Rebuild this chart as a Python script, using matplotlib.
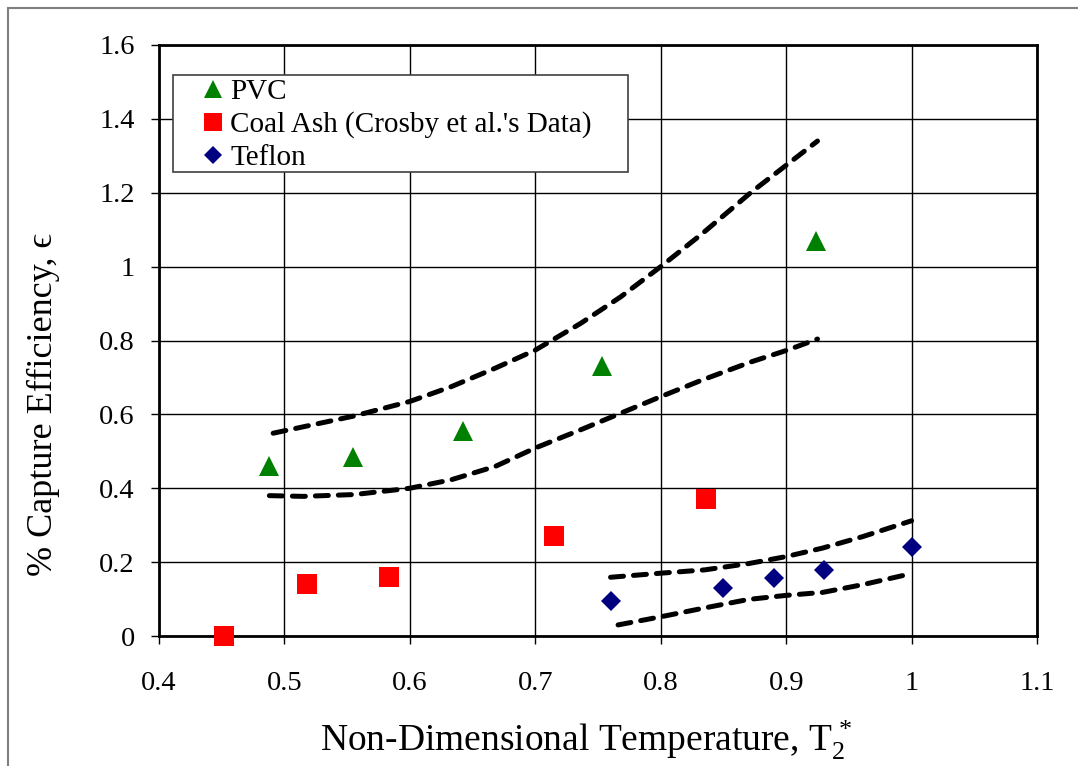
import matplotlib
matplotlib.use("Agg")
import matplotlib.pyplot as plt
from matplotlib.patches import Rectangle

# Measured capture efficiencies
pvc_x = [0.488, 0.555, 0.642, 0.753, 0.924]
pvc_y = [0.460, 0.485, 0.555, 0.732, 1.070]
ash_x = [0.452, 0.518, 0.583, 0.715, 0.836]
ash_y = [0.000, 0.140, 0.159, 0.270, 0.370]
teflon_x = [0.760, 0.850, 0.890, 0.930, 1.000]
teflon_y = [0.094, 0.130, 0.157, 0.179, 0.240]

# Model bounds (dashed curves)
pvc_upper_x = [0.491, 0.556, 0.600, 0.633, 0.668, 0.700, 0.736, 0.768, 0.800, 0.833, 0.872, 0.901, 0.925]
pvc_upper_y = [0.549, 0.596, 0.635, 0.675, 0.725, 0.774, 0.846, 0.918, 1.000, 1.089, 1.201, 1.277, 1.340]
pvc_lower_x = [0.488, 0.515, 0.556, 0.600, 0.633, 0.668, 0.700, 0.736, 0.763, 0.800, 0.833, 0.872, 0.901, 0.925]
pvc_lower_y = [0.380, 0.378, 0.383, 0.400, 0.423, 0.459, 0.509, 0.558, 0.596, 0.648, 0.693, 0.742, 0.774, 0.804]
teflon_upper_x = [0.760, 0.796, 0.835, 0.870, 0.900, 0.929, 0.961, 1.000]
teflon_upper_y = [0.159, 0.169, 0.179, 0.196, 0.215, 0.238, 0.269, 0.312]
teflon_lower_x = [0.766, 0.800, 0.835, 0.870, 0.900, 0.929, 0.961, 1.000]
teflon_lower_y = [0.030, 0.052, 0.076, 0.099, 0.110, 0.118, 0.139, 0.169]

x_ticks = [0.4, 0.5, 0.6, 0.7, 0.8, 0.9, 1.0, 1.1]
x_tick_labels = ["0.4", "0.5", "0.6", "0.7", "0.8", "0.9", "1", "1.1"]
y_ticks = [0.0, 0.2, 0.4, 0.6, 0.8, 1.0, 1.2, 1.4, 1.6]
y_tick_labels = ["0", "0.2", "0.4", "0.6", "0.8", "1", "1.2", "1.4", "1.6"]

series_labels = ["PVC", "Coal Ash (Crosby et al.'s Data)", "Teflon"]

plt.rcParams["font.family"] = ["Liberation Serif", "DejaVu Serif"]
plt.rcParams["mathtext.fontset"] = "custom"
plt.rcParams["mathtext.rm"] = "Liberation Serif"
plt.rcParams["mathtext.it"] = "Liberation Serif:italic"
plt.rcParams["mathtext.bf"] = "Liberation Serif:bold"

W, H = 1078, 766
fig = plt.figure(figsize=(W / 100, H / 100), dpi=100)

# outer chart frame (top and left edges visible)
fig.patches.append(Rectangle((8 / W, -0.05), 1.2, (H - 8) / H + 0.05,
                             transform=fig.transFigure, fill=False,
                             edgecolor="#7f7f7f", linewidth=1.5))

left, right, top, bottom = 159, 1037, 45, 636
ax = fig.add_axes([left / W, (H - bottom) / H, (right - left) / W, (bottom - top) / H])

ax.set_xlim(0.4, 1.1)
ax.set_ylim(0.0, 1.6)
ax.set_xticks(x_ticks)
ax.set_xticklabels(x_tick_labels)
ax.set_yticks(y_ticks)
ax.set_yticklabels(y_tick_labels)
ax.tick_params(axis="both", direction="out", length=5.5, width=1, labelsize=20.5, color="black")
ax.tick_params(axis="x", pad=20)
ax.tick_params(axis="y", pad=12)
ax.grid(True, color="black", linewidth=1.0)
ax.set_axisbelow(True)
for sp in ax.spines.values():
    sp.set_linewidth(2.0)
    sp.set_color("black")

dash_kw = dict(color="black", linewidth=3.6, linestyle=(0, (2.6, 2.0)), dash_capstyle="round", zorder=3)
ax.plot(pvc_upper_x, pvc_upper_y, **dash_kw)
ax.plot(pvc_lower_x, pvc_lower_y, **dash_kw)
ax.plot(teflon_upper_x, teflon_upper_y, **dash_kw)
ax.plot(teflon_lower_x, teflon_lower_y, **dash_kw)

h1, = ax.plot(pvc_x, pvc_y, linestyle="none", marker="^", markersize=14.4,
              color="#008000", markeredgewidth=0, zorder=4, clip_on=False)
h2, = ax.plot(ash_x, ash_y, linestyle="none", marker="s", markersize=14.4,
              color="#ff0000", markeredgewidth=0, zorder=4, clip_on=False)
h3, = ax.plot(teflon_x, teflon_y, linestyle="none", marker="D", markersize=10.2,
              color="#000080", markeredgewidth=0, zorder=4, clip_on=False)

# legend box
x0 = (173 - left) / (right - left)
x1 = (628 - left) / (right - left)
y1 = (bottom - 75) / (bottom - top)
y0 = (bottom - 172) / (bottom - top)
ax.add_patch(Rectangle((x0, y0), x1 - x0, y1 - y0, transform=ax.transAxes,
                       facecolor="white", edgecolor="#404040", linewidth=1.2, zorder=5))
leg = ax.legend([h1, h2, h3], series_labels, loc="upper left",
                bbox_to_anchor=((198 - left) / (right - left), (bottom - 79) / (bottom - top)),
                frameon=False, fontsize=21, markerscale=0.9, handlelength=1.0,
                handletextpad=0.1, labelspacing=0.21, borderaxespad=0, borderpad=0)
leg.set_zorder(6)

fig.text(586 / W, 1 - 740 / H, r"Non-Dimensional Temperature, $\mathrm{T}_2^{\,*}$",
         ha="center", va="center", fontsize=27)
fig.text(43 / W, 1 - 405 / H, "% Capture Efficiency, \u03f5",
         ha="center", va="center", rotation=90, fontsize=26)

fig.savefig("out.png", dpi=100)
